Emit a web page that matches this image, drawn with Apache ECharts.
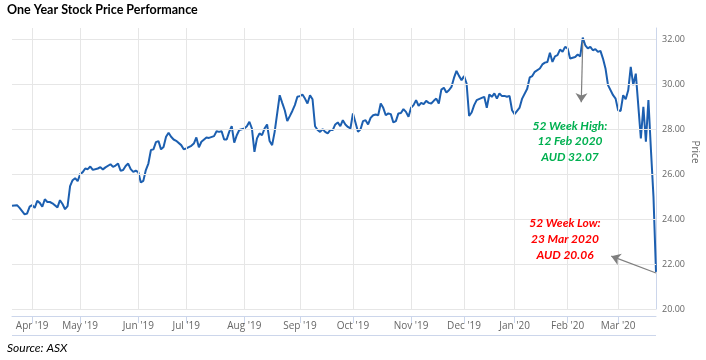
<!DOCTYPE html>
<html><head><meta charset="utf-8">
<script src="https://cdn.jsdelivr.net/npm/echarts@6/dist/echarts.min.js"></script>
<style>html,body{margin:0;padding:0;background:#fff}#c{width:706px;height:360px}</style>
</head><body><div id="c"></div>
<script>
// trading-day index (0 = 20 Mar 2019) and closing price (AUD)
const tradingDay = [0,2,3,5,6,7,8,9,10,11,12,13,14,15,16,18,19,20,21,22,23,24,25,26,27,28,29,30,31,32,34,35,36,37,39,40,41,42,43,44,45,46,47,48,49,50,51,52,53,54,55,56,57,58,59,60,61,62,63,64,65,67,68,69,71,72,73,74,75,77,78,80,81,82,83,84,85,86,87,88,89,90,92,93,94,95,96,97,98,99,100,101,102,103,104,106,107,108,109,110,111,112,113,114,115,116,117,118,119,120,121,122,123,124,125,126,127,128,129,130,131,132,133,134,135,136,137,138,139,140,141,142,143,144,145,146,147,148,149,150,151,152,153,154,155,156,157,158,159,160,161,162,163,164,165,166,167,168,169,170,171,172,173,174,175,176,177,178,179,180,181,182,183,184,186,187,188,189,190,191,192,193,194,195,196,197,198,199,201,202,204,205,206,207,209,210,211,212,213,214,215,216,217,218,219,220,221,223,224,225,226,227,228,229,230,231,232,233,234,235,236,238,239,240,241,242,243,244,245,246,247,249,250,251,252,253,254,255];
const closePrice = [24.59,24.62,24.50,24.21,24.25,24.55,24.62,24.50,24.81,24.72,24.55,24.88,24.76,24.76,24.70,24.52,24.84,24.67,24.44,24.58,25.47,25.73,25.82,25.69,26.00,26.09,26.25,26.22,26.34,26.19,26.25,26.31,26.21,26.30,26.44,26.32,26.38,26.47,26.15,26.18,26.36,26.47,26.22,26.10,26.15,26.09,25.63,25.70,26.18,26.47,27.07,27.10,27.42,27.47,27.10,27.21,27.66,27.84,27.66,27.54,27.48,27.29,27.11,27.14,27.26,27.36,27.63,27.19,27.44,27.63,27.61,27.69,27.91,27.88,27.91,27.54,27.54,27.88,28.13,27.40,27.73,27.96,28.03,28.13,28.33,28.03,26.99,27.59,27.81,27.73,28.03,28.21,27.47,27.29,27.88,29.51,29.17,28.84,28.36,28.58,28.81,29.07,29.44,29.47,29.54,29.36,29.14,29.51,29.33,28.13,27.96,27.88,28.00,27.88,27.81,27.96,27.96,28.21,28.30,28.13,28.40,28.21,28.10,28.03,28.70,28.30,27.88,27.99,28.36,28.40,28.21,28.50,28.62,28.65,28.62,29.14,28.95,28.62,28.70,28.67,28.30,28.36,28.70,28.72,28.89,28.77,28.55,28.95,29.07,29.29,29.04,29.17,29.11,29.26,29.17,29.14,29.26,29.36,29.14,29.76,29.84,29.63,29.73,29.88,30.28,30.59,30.37,30.18,30.36,30.03,28.59,28.74,29.07,29.29,29.39,29.44,28.95,29.54,29.44,29.59,29.36,29.59,29.47,29.48,29.44,29.48,28.84,28.67,28.96,29.36,29.80,30.30,30.36,30.55,30.70,30.88,30.96,30.99,31.40,30.99,31.24,31.29,31.54,31.44,31.66,31.59,31.14,31.21,31.32,31.24,32.07,31.73,31.59,31.66,31.51,31.56,31.44,31.48,31.14,30.70,29.96,29.51,29.36,28.84,28.81,29.51,29.33,29.73,30.77,29.96,30.47,27.59,28.99,27.44,29.29,27.07,25.00,21.65];
const monthTickDay = [8,27,50,69,92,114,135,158,179,199,220,240];
const monthTickLabels = ["Apr '19","May '19","Jun '19","Jul '19","Aug '19","Sep '19","Oct '19","Nov '19","Dec '19","Jan '20","Feb '20","Mar '20"];
const priceTicks = [20,22,24,26,28,30,32];
const highNote = ["52 Week High:", "12 Feb 2020", "AUD 32.07"];
const lowNote = ["52 Week Low:", "23 Mar 2020", "AUD 20.06"];
const highArrow = [[226, 31.9], [225.4, 29.2]];
const lowArrow = [[255, 21.6], [237.3, 22.35]];

const seriesData = tradingDay.map((d, i) => [d, closePrice[i]]);
const graphics = [];
highNote.forEach((t, i) => graphics.push({type:'text', z:100, style:{text:t, x:570, y:126 + i*15.5, fill:'#00b050', font:'italic bold 12px Lato', align:'center', verticalAlign:'middle'}}));
lowNote.forEach((t, i) => graphics.push({type:'text', z:100, style:{text:t, x:565, y:223 + i*16, fill:'#ff0000', font:'italic bold 12px Lato', align:'center', verticalAlign:'middle'}}));
graphics.push({type:'text', z:100, style:{text:'Source: ASX', x:7, y:348, fill:'#000', font:'italic 12px Lato', align:'left', verticalAlign:'middle'}});
graphics.push({type:'text', z:100, rotation:-Math.PI/2, x:695, y:152, style:{text:'Price', x:0, y:0, fill:'#666', font:'10px "Open Sans"', align:'center', verticalAlign:'middle'}});
graphics.push({type:'line', z:100, shape:{x1:12, y1:335.5, x2:656, y2:335.5}, style:{stroke:'#ccd6eb', lineWidth:1}});

const chart = echarts.init(document.getElementById('c'));
chart.setOption({
  animation:false,
  backgroundColor:'#fff',
  title:{text:'One Year Stock Price Performance', left:7, top:3, padding:0,
    textStyle:{fontSize:12.5, fontWeight:'bold', fontFamily:'Lato', color:'#000'}},
  grid:{show:false, borderWidth:0, left:12, right:50, top:28, bottom:51, containLabel:false},
  xAxis:{type:'value', min:0, max:255, offset:7,
    axisLine:{show:true, onZero:false, lineStyle:{color:'#ccd6eb'}},
    axisTick:{show:true, customValues:monthTickDay, length:7, lineStyle:{color:'#ccd6eb'}},
    axisLabel:{customValues:monthTickDay, formatter:v => monthTickLabels[monthTickDay.indexOf(v)] || '',
      color:'#666', fontSize:10, fontFamily:'Open Sans', margin:5},
    splitLine:{show:false}, splitArea:{show:false}},
  yAxis:{type:'value', position:'right', min:20, max:32.5,
    axisLine:{show:true, onZero:false, lineStyle:{color:'#ccd6eb'}}, axisTick:{show:false},
    axisLabel:{customValues:priceTicks, formatter:v => v.toFixed(2), color:'#666', fontSize:9, fontFamily:'Open Sans', margin:6},
    splitLine:{show:false}, splitArea:{show:false}},
  series:[
    {type:'line', data:[], silent:true, z:1,
      markLine:{silent:true, symbol:'none', label:{show:false}, animation:false,
        lineStyle:{color:'#e6e6e6', width:1, type:'solid'},
        data:[...priceTicks.map(v => ({yAxis:v})), ...monthTickDay.map(d => ({xAxis:d}))]}},
    {type:'line', data:seriesData, showSymbol:false, symbol:'none', z:3,
      lineStyle:{color:'#1c5fb0', width:2}, itemStyle:{color:'#1c5fb0'},
      markLine:{silent:true, symbol:['none','arrow'], symbolSize:9, label:{show:false},
        lineStyle:{color:'#7f7f7f', width:1.2, type:'solid'},
        data:[[{coord:highArrow[0]},{coord:highArrow[1]}],[{coord:lowArrow[0]},{coord:lowArrow[1]}]]}}],
  graphic:graphics
});
</script></body></html>
